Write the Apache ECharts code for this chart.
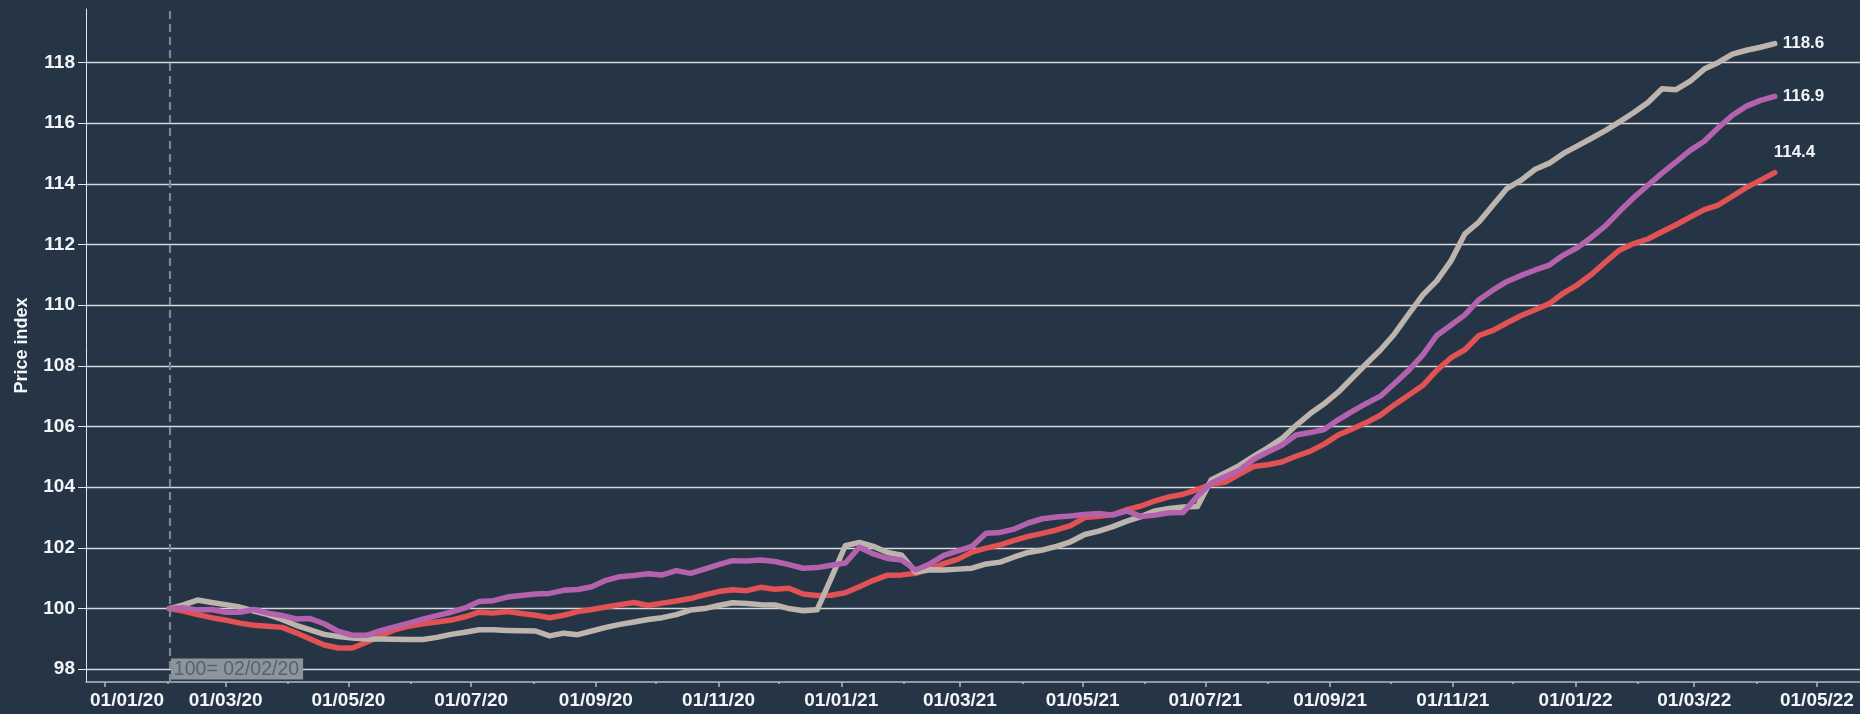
<!DOCTYPE html>
<html>
<head>
<meta charset="utf-8">
<title>Price index</title>
<script src="https://cdn.jsdelivr.net/npm/echarts@6/dist/echarts.min.js"></script>
<style>
  html, body { margin: 0; padding: 0; background: #253546; }
  #chart { width: 1860px; height: 714px; }
</style>
</head>
<body>
<div id="chart"></div>
<script>
// weekly index values, base week 02/02/20 = 100
const baseLabel = '100= 02/02/20';
const weekCount = 115;

const redValues = [
  100.0, 99.92, 99.8, 99.7, 99.62, 99.52, 99.45, 99.42, 99.38, 99.2,
  99.0, 98.8, 98.7, 98.7, 98.89, 99.1, 99.3, 99.42, 99.5, 99.56,
  99.62, 99.73, 99.88, 99.85, 99.9, 99.84, 99.78, 99.7, 99.78, 99.9,
  99.97, 100.05, 100.13, 100.2, 100.1, 100.18, 100.25, 100.33, 100.45, 100.56,
  100.62, 100.59, 100.7, 100.64, 100.67, 100.48, 100.43, 100.44, 100.52, 100.72,
  100.93, 101.1, 101.11, 101.16, 101.3, 101.48, 101.63, 101.86, 101.99, 102.1,
  102.25, 102.38, 102.48, 102.59, 102.73, 103.0, 103.04, 103.1, 103.26, 103.38,
  103.55, 103.68, 103.77, 103.92, 104.1, 104.17, 104.43, 104.68, 104.74, 104.83,
  105.02, 105.18, 105.42, 105.72, 105.92, 106.13, 106.37, 106.72, 107.03, 107.35,
  107.85, 108.26, 108.53, 109.0, 109.17, 109.42, 109.66, 109.85, 110.05, 110.4,
  110.67, 111.02, 111.43, 111.82, 112.03, 112.18, 112.42, 112.65, 112.9, 113.15,
  113.3, 113.59, 113.88, 114.12, 114.37
];

const greyValues = [
  100.0, 100.12, 100.28, 100.2, 100.13, 100.05, 99.92, 99.8, 99.64, 99.45,
  99.3, 99.15, 99.08, 99.03, 99.0, 99.0, 98.99, 98.98, 98.98, 99.05,
  99.15, 99.22, 99.3, 99.3, 99.28, 99.27, 99.26, 99.1, 99.19, 99.14,
  99.26, 99.38, 99.48, 99.56, 99.64, 99.7, 99.8, 99.95, 100.0, 100.1,
  100.19, 100.17, 100.13, 100.12, 100.0, 99.93, 99.96, 101.0, 102.07, 102.18,
  102.05, 101.85, 101.76, 101.2, 101.28, 101.27, 101.3, 101.33, 101.47, 101.53,
  101.7, 101.85, 101.93, 102.05, 102.2, 102.44, 102.55, 102.7, 102.88, 103.03,
  103.22, 103.3, 103.35, 103.36, 104.25, 104.48, 104.72, 105.02, 105.3, 105.6,
  106.03, 106.42, 106.75, 107.13, 107.6, 108.07, 108.52, 109.05, 109.7, 110.33,
  110.8, 111.45, 112.35, 112.74, 113.3, 113.85, 114.12, 114.48, 114.68, 115.0,
  115.25, 115.5, 115.76, 116.05, 116.35, 116.68, 117.13, 117.1, 117.38, 117.78,
  118.0, 118.27, 118.4, 118.5, 118.62
];

const purpleValues = [
  100.0, 100.03, 99.95, 99.97, 99.88, 99.88, 99.97, 99.85, 99.77, 99.66,
  99.67, 99.5, 99.25, 99.12, 99.12, 99.27, 99.4, 99.52, 99.65, 99.77,
  99.88, 100.02, 100.23, 100.26, 100.38, 100.43, 100.48, 100.5, 100.6, 100.63,
  100.72, 100.93, 101.05, 101.09, 101.15, 101.11, 101.25, 101.16, 101.3, 101.45,
  101.58, 101.57, 101.6, 101.55, 101.45, 101.33, 101.35, 101.43, 101.5, 102.02,
  101.8, 101.65, 101.6, 101.27, 101.47, 101.75, 101.9, 102.05, 102.48, 102.51,
  102.62, 102.82, 102.96, 103.02, 103.05, 103.1, 103.13, 103.08, 103.22, 103.03,
  103.08, 103.16, 103.17, 103.7, 104.14, 104.35, 104.56, 104.92, 105.16, 105.38,
  105.72, 105.8, 105.9, 106.22, 106.5, 106.76, 107.0, 107.42, 107.85, 108.35,
  109.0, 109.34, 109.68, 110.18, 110.5, 110.78, 110.98, 111.16, 111.32, 111.65,
  111.9, 112.24, 112.62, 113.1, 113.55, 113.95, 114.35, 114.72, 115.1, 115.4,
  115.85, 116.26, 116.56, 116.75, 116.88
];

const xLabelTicks = ['01/01/20', '01/03/20', '01/05/20', '01/07/20', '01/09/20', '01/11/20',
  '01/01/21', '01/03/21', '01/05/21', '01/07/21', '01/09/21', '01/11/21',
  '01/01/22', '01/03/22', '01/05/22'];
const xMinorTicks = ['01/02/20', '01/04/20', '01/06/20', '01/08/20', '01/10/20', '01/12/20',
  '01/02/21', '01/04/21', '01/06/21', '01/08/21', '01/10/21', '01/12/21',
  '01/02/22', '01/04/22'];
const yTicks = [98, 100, 102, 104, 106, 108, 110, 112, 114, 116, 118];

const FONT = '"Liberation Sans", Arial, sans-serif';

function parseDay(s) {
  const p = s.split('/');
  return new Date(2000 + Number(p[2]), Number(p[1]) - 1, Number(p[0])).getTime();
}
function pad(n) { return n < 10 ? '0' + n : '' + n; }
function fmtDay(v) {
  const d = new Date(v);
  return pad(d.getDate()) + '/' + pad(d.getMonth() + 1) + '/' + String(d.getFullYear()).slice(2);
}

const baseDate = parseDay(baseLabel.split(' ')[1]);
const dates = [];
for (let i = 0; i < weekCount; i++) {
  dates.push(new Date(2020, 1, 2 + 7 * i).getTime());
}

const xMin = new Date(2019, 11, 22, 13, 30).getTime();
const xMax = new Date(2022, 4, 22, 9, 40).getTime();
const yMin = 97.58;
const yMax = 119.76;
const firstLabel = parseDay(xLabelTicks[0]);

function makeSeries(name, values, color, labelOffset) {
  return {
    name: name,
    type: 'line',
    data: dates.map((d, i) => [d, values[i]]),
    symbol: 'none',
    lineStyle: { width: 5.5, color: color, cap: 'round', join: 'round' },
    itemStyle: { color: color },
    emphasis: { disabled: true },
    endLabel: {
      show: true,
      formatter: p => p.value[1].toFixed(1),
      color: '#f2f5f8',
      fontWeight: 'bold',
      fontSize: 17,
      fontFamily: FONT,
      distance: 8,
      offset: labelOffset || [0, 0]
    }
  };
}

const chart = echarts.init(document.getElementById('chart'));

const redSeries = makeSeries('Series 3', redValues, '#e05254', [-9, -20]);
redSeries.markLine = {
  silent: true,
  symbol: ['none', 'none'],
  label: { show: false },
  lineStyle: { type: [8, 5], color: '#7b8895', width: 2.2 },
  data: [{ xAxis: baseDate }]
};
redSeries.markPoint = {
  silent: true,
  symbol: 'circle',
  symbolSize: 1,
  itemStyle: { color: 'rgba(0,0,0,0)' },
  data: [{
    coord: [baseDate, yMin],
    label: {
      show: true,
      formatter: baseLabel,
      position: [0, 0],
      align: 'left',
      verticalAlign: 'bottom',
      offset: [2, -2],
      color: '#5a636b',
      fontSize: 19.5,
      fontFamily: FONT,
      backgroundColor: '#8c959d',
      padding: [1, 4, 0, 3]
    }
  }]
};

chart.setOption({
  animation: false,
  backgroundColor: '#253546',
  grid: { left: 86, right: 0, top: 9, bottom: 32 },
  xAxis: [{
    type: 'value',
    min: xMin,
    max: xMax,
    position: 'bottom',
    axisLine: { show: true, lineStyle: { color: '#b4b9be', width: 1.5 } },
    axisTick: { show: true, customValues: xLabelTicks.map(parseDay), length: 5, lineStyle: { color: '#b4b9be', width: 1.5 } },
    axisLabel: {
      customValues: xLabelTicks.map(parseDay),
      // first label sits just right of the y axis in the original
      formatter: v => (v === firstLabel ? '{first|' + fmtDay(v) + '}' : fmtDay(v)),
      rich: {
        first: { padding: [0, 0, 0, 44], color: '#f2f5f8', fontWeight: 'bold', fontSize: 19, fontFamily: FONT }
      },
      color: '#f2f5f8',
      fontWeight: 'bold',
      fontSize: 19,
      fontFamily: FONT,
      margin: 9
    },
    splitLine: { show: false }
  }, {
    type: 'value',
    min: xMin,
    max: xMax,
    position: 'bottom',
    axisLine: { show: false },
    axisTick: { show: true, customValues: xMinorTicks.map(parseDay), length: 2, lineStyle: { color: '#b4b9be', width: 1.5 } },
    axisLabel: { show: false },
    splitLine: { show: false }
  }],
  yAxis: {
    type: 'value',
    min: yMin,
    max: yMax,
    name: 'Price index',
    nameLocation: 'middle',
    nameGap: 55,
    nameTextStyle: { color: '#f2f5f8', fontWeight: 'bold', fontSize: 18, fontFamily: FONT },
    axisLine: { show: true, lineStyle: { color: '#e6e8ea', width: 1 } },
    axisTick: { show: true, customValues: yTicks, length: 8, lineStyle: { color: '#e6e8ea' } },
    axisLabel: {
      customValues: yTicks,
      color: '#f2f5f8',
      fontWeight: 'bold',
      fontSize: 19,
      fontFamily: FONT,
      margin: 11
    },
    splitLine: { show: true, lineStyle: { color: '#d6d8da', width: 1.3 } }
  },
  series: [
    redSeries,
    makeSeries('Series 1', greyValues, '#bdb4ae'),
    makeSeries('Series 2', purpleValues, '#b462ad')
  ]
});
</script>
</body>
</html>
